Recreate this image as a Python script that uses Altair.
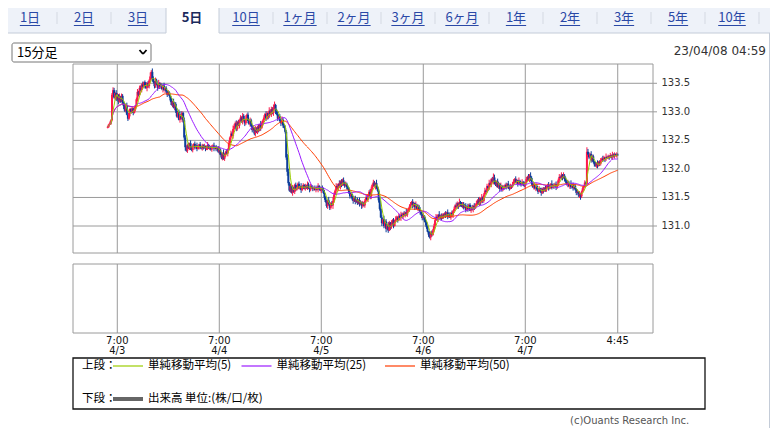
import altair as alt
import pandas as pd
import numpy as np

# ---------------- data (15-minute bars, 4/3 4:45 -> 4/8 4:45) ----------------
first_open = 132.72
closes = [
    132.74, 132.78, 132.80, 132.85,
    133.30, 133.38,
    133.25, 133.33, 133.22, 133.30, 133.18, 133.26, 133.20, 133.28, 133.15,
    133.10, 133.02, 133.12, 132.95, 132.88, 132.98, 133.05,
    133.00, 133.06, 132.98, 133.04, 133.10,
    133.22, 133.35, 133.30, 133.42,
    133.38, 133.48, 133.44, 133.52, 133.46, 133.42, 133.50, 133.45, 133.55,
    133.62, 133.70, 133.58,
    133.52, 133.45, 133.55, 133.48, 133.42, 133.50, 133.44, 133.47, 133.40, 133.46, 133.38, 133.42,
    133.36, 133.30, 133.34, 133.28,
    133.20, 133.12, 133.18, 133.08, 133.14,
    133.02, 132.92, 133.00, 132.86, 132.95, 132.88, 132.98, 132.85,
    132.55, 132.38,
    132.32, 132.42, 132.36, 132.45, 132.38, 132.33, 132.40, 132.44, 132.37, 132.41, 132.35, 132.39, 132.43, 132.38, 132.36, 132.41,
    132.37, 132.40, 132.35, 132.38, 132.42, 132.36, 132.39, 132.34, 132.38, 132.41, 132.36, 132.39, 132.35, 132.37,
    132.30, 132.34, 132.25, 132.20, 132.28, 132.18, 132.24, 132.30, 132.27, 132.35,
    132.45, 132.55, 132.62, 132.58, 132.70, 132.75,
    132.80, 132.70, 132.82, 132.76, 132.86,
    132.90, 132.82, 132.93, 132.86, 132.80, 132.88, 132.95, 132.84, 132.79, 132.85,
    132.75, 132.68, 132.72, 132.62, 132.70, 132.65, 132.74, 132.67, 132.78, 132.72, 132.80, 132.85,
    132.90, 132.96, 132.88, 132.98, 132.92, 133.02, 132.95, 133.05, 132.98, 133.08, 133.12, 133.02,
    132.96, 132.88, 132.92, 132.84, 132.80, 132.86, 132.76, 132.72, 132.65,
    132.20, 131.95,
    131.75, 131.62, 131.70, 131.58, 131.66, 131.60, 131.72, 131.64,
    131.68, 131.74, 131.66, 131.70, 131.63, 131.69, 131.72, 131.65, 131.70, 131.67, 131.73, 131.66, 131.64, 131.70, 131.68, 131.65,
    131.67, 131.63, 131.68, 131.64, 131.70, 131.66, 131.62, 131.67, 131.64,
    131.58, 131.50, 131.42, 131.35, 131.45, 131.38, 131.32, 131.40, 131.36, 131.44,
    131.55, 131.62, 131.70, 131.66, 131.74, 131.70, 131.78, 131.72, 131.80, 131.76, 131.70, 131.74, 131.68, 131.65,
    131.58, 131.52, 131.56, 131.48, 131.44, 131.50, 131.42, 131.46, 131.40, 131.45, 131.38, 131.42, 131.35, 131.40, 131.36, 131.44,
    131.50, 131.46, 131.55, 131.60, 131.52,
    131.65, 131.72, 131.76, 131.70, 131.75, 131.68, 131.62,
    131.45, 131.30, 131.15, 131.05, 131.12, 131.00, 131.08,
    130.95, 131.02, 130.92, 131.06, 130.98, 131.04, 131.10, 131.00, 131.08, 131.12,
    131.15, 131.10, 131.18, 131.14, 131.20, 131.16, 131.22, 131.18, 131.24, 131.20, 131.26, 131.30, 131.34,
    131.38, 131.42, 131.35, 131.40, 131.33, 131.37, 131.30, 131.34, 131.28, 131.25,
    131.20, 131.14, 131.18, 131.10, 131.06,
    130.98, 130.90, 130.85, 130.80, 130.88, 130.84, 130.92,
    131.00, 131.10, 131.16, 131.12, 131.20, 131.15, 131.18, 131.13, 131.19,
    131.16, 131.22, 131.18, 131.24, 131.17, 131.21, 131.15, 131.23, 131.19, 131.26,
    131.30, 131.36, 131.33, 131.40, 131.35, 131.42, 131.38, 131.34, 131.39,
    131.32, 131.36, 131.28, 131.34, 131.30, 131.37, 131.27, 131.33, 131.29, 131.35, 131.31, 131.36,
    131.40, 131.45, 131.38, 131.48, 131.42, 131.50, 131.44,
    131.55, 131.62, 131.60, 131.70, 131.66, 131.75, 131.72, 131.82, 131.78, 131.85, 131.76,
    131.72, 131.78, 131.68, 131.74, 131.65, 131.70, 131.64, 131.68,
    131.66, 131.72, 131.68, 131.74, 131.70, 131.65, 131.71, 131.69, 131.73,
    131.78, 131.82, 131.76, 131.80, 131.74, 131.79, 131.75,
    131.72, 131.77, 131.74, 131.70, 131.76,
    131.82, 131.86, 131.80, 131.88, 131.84,
    131.74, 131.68, 131.72, 131.66, 131.70,
    131.64, 131.60, 131.66, 131.62, 131.58, 131.65, 131.61, 131.67, 131.63,
    131.68, 131.72, 131.66, 131.70, 131.74, 131.67, 131.71, 131.69, 131.73, 131.68, 131.72,
    131.80, 131.86, 131.84, 131.90, 131.85, 131.88, 131.82,
    131.78, 131.72, 131.76, 131.70, 131.74, 131.68, 131.72, 131.66, 131.70,
    131.64, 131.58, 131.60, 131.54, 131.56, 131.52,
    131.60, 131.66, 131.70, 131.76, 131.74,
    132.30, 132.25,
    132.20, 132.26, 132.15, 132.22,
    132.12, 132.08, 132.05, 132.10, 132.06, 132.12, 132.09,
    132.15, 132.18, 132.16, 132.20, 132.17, 132.21, 132.19,
    132.22, 132.20, 132.24, 132.21, 132.25, 132.22, 132.26, 132.23, 132.25, 132.24,
]
# upper / lower wick beyond the body, in pips (0.01), one digit per bar
wick_up_rows = [
    "2132", "35", "425316243", "3524162", "23142", "3524", "425136242", "736",
    "425316243152", "3142", "24153", "35241632", "54", "3241523142531423",
    "24135231425132", "3524163241", "425364", "35241", "4253162435",
    "324153241632", "425316243562", "352416324", "36", "52416324",
    "3241523142531423", "241352314", "3524163247", "42531624351423",
    "3241523142531423", "24135", "4253162", "3524163", "4253162435",
    "3241532416324", "4253162435", "32415", "2316243", "425316243",
    "3241523142", "425316243", "324152314253", "4253162", "35241632475",
    "42531624", "324152314", "4253162", "35241", "42536", "32415",
    "324152314", "42531624352", "3524163", "425316243", "324152", "23142",
    "85", "4253", "3241523", "4253162", "3241523142",
]
wick_dn_rows = [
    "1213", "24", "243152432", "5231426", "32413", "2431", "243152634", "345",
    "243152432615", "2413", "31425", "42315264", "46", "2413524132415324",
    "31425132415243", "2413524315", "324153", "24315", "3142531425",
    "241352431524", "314253142536", "241352413", "47", "42315243",
    "2413524132415324", "314253142", "2413524316", "31425364253142",
    "2413524132415324", "31425", "5241632", "4315243", "6241532413",
    "2413524132415", "3142531425", "24135", "3142531", "241352431",
    "3142531425", "241352413", "314253142531", "2413524", "31425314253",
    "24135243", "314253142", "2413524", "31425", "24135", "31425",
    "241352413", "31425314253", "2413524", "314253142", "241356", "31425",
    "24", "3142", "2413524", "3142531", "2413524131",
]
start_hour = 4.75          # 4/3 4:45, hours counted from 4/3 0:00
bar_step = 0.25            # 15 minutes

ma_periods = [50, 25, 5]
ma_colors = ["#ff3c00", "#9a1aff", "#9acd00"]

x_tick_hours = [7, 31, 55, 79, 103, 124.75]
x_tick_line1 = ["7:00", "7:00", "7:00", "7:00", "7:00", "4:45"]
x_tick_line2 = ["4/3", "4/4", "4/5", "4/6", "4/7", ""]
y_ticks = [131.0, 131.5, 132.0, 132.5, 133.0, 133.5]

tab_labels = ["1日", "2日", "3日", "5日", "10日", "1ヶ月", "2ヶ月", "3ヶ月",
              "6ヶ月", "1年", "2年", "3年", "5年", "10年"]
active_tab = "5日"
period_select = "15分足"
stamp = "23/04/08 04:59"
legend_row1 = ["単純移動平均(5)", "単純移動平均(25)", "単純移動平均(50)"]
legend_row2 = "出来高 単位:(株/口/枚)"
copyright_text = "(c)Ouants Research Inc."

# ---------------- frames ----------------
n = len(closes)
wu = [int(c) for c in "".join(wick_up_rows)]
wd = [int(c) for c in "".join(wick_dn_rows)]
m = min(n, len(wu), len(wd))
df = pd.DataFrame({"h": [start_hour + bar_step * i for i in range(n)], "close": closes})
df["open"] = [first_open] + closes[:-1]
df["dir"] = np.where(df["close"] >= df["open"], "up", "down")
body_hi = df[["open", "close"]].max(axis=1)
body_lo = df[["open", "close"]].min(axis=1)
up_arr = np.zeros(n); dn_arr = np.zeros(n)
up_arr[:m] = wu[:m]; dn_arr[:m] = wd[:m]
df["high"] = body_hi + up_arr * 0.01
df["low"] = body_lo - dn_arr * 0.01
for p in ma_periods:
    df[f"ma{p}"] = df["close"].rolling(p, min_periods=1).mean()

ticks = pd.DataFrame({"h": x_tick_hours, "l1": x_tick_line1, "l2": x_tick_line2})
yt = pd.DataFrame({"v": y_ticks, "lab": [f"{v:.1f}" for v in y_ticks]})

OX, OY = 73, 64  # page position of plot origin
W, H = 580, 189
GRID = "#9a9a9a"

xscale = alt.Scale(domain=[-3.42, 133.05], nice=False, zero=False)
yscale = alt.Scale(domain=[130.527, 133.838], nice=False, zero=False)
X = alt.X("h:Q", scale=xscale, axis=None)

def Yf(field):
    return alt.Y(f"{field}:Q", scale=yscale, axis=None)

dummy = alt.Data(values=[{"a": 1}])

def rect(x1, y1, x2, y2, fill="white", stroke=None, sw=1, radius=0):
    kw = dict(fill=fill, strokeWidth=sw, cornerRadius=radius)
    if stroke:
        kw["stroke"] = stroke
    return alt.Chart(dummy).mark_rect(**kw).encode(
        x=alt.value(x1 - OX), x2=alt.value(x2 - OX),
        y=alt.value(y1 - OY), y2=alt.value(y2 - OY))

def seg(x1, y1, x2, y2, color="#999999", sw=1):
    return alt.Chart(dummy).mark_rule(color=color, strokeWidth=sw).encode(
        x=alt.value(x1 - OX), x2=alt.value(x2 - OX),
        y=alt.value(y1 - OY), y2=alt.value(y2 - OY))

def txt(px, py, s, size=12, color="#000000", align="left", font="DejaVu Sans", weight="normal"):
    return alt.Chart(dummy).mark_text(text=s, align=align, baseline="middle", fontSize=size,
                                      font=font, color=color, fontWeight=weight).encode(
        x=alt.value(px - OX), y=alt.value(py - OY))

layers = []
# tab bar
layers.append(rect(0, 0, 770, 33, fill="#eef2f9"))
for i, lab in enumerate(tab_labels):
    cx = 30 + 54 * i
    if lab == active_tab:
        layers.append(rect(166, 0, 219, 34, fill="white"))
        layers.append(seg(166, 0, 166, 33, "#c4ccd8"))
        layers.append(seg(219, 0, 219, 33, "#c4ccd8"))
        layers.append(txt(cx, 18, lab, 13, "#1b2a5c", "center", "Noto Sans CJK JP", "bold"))
    else:
        w = sum(7.3 if ch.isascii() else 13 for ch in lab)
        layers.append(txt(cx, 18, lab, 13, "#2a48a6", "center", "Noto Sans CJK JP"))
        layers.append(seg(cx - w / 2, 25.5, cx + w / 2, 25.5, "#2a48a6", 1))
for i in range(len(tab_labels)):
    sx = 30 + 54 * i + 27
    if tab_labels[i] == active_tab or (i + 1 < len(tab_labels) and tab_labels[i + 1] == active_tab):
        continue
    layers.append(seg(sx, 12, sx, 24, "#d4d9e2"))
layers.append(seg(0, 33, 166, 33, "#c4ccd8"))
layers.append(seg(219, 33, 770, 33, "#c4ccd8"))
layers.append(seg(769.5, 33, 769.5, 441, "#c4ccd8"))

# dropdown + timestamp
layers.append(rect(12, 43, 151, 62, fill="white", stroke="#767676", sw=1, radius=2))
layers.append(txt(17, 52.5, period_select, 13, "#000000", "left", "Noto Sans CJK JP"))
layers.append(seg(139.5, 50, 143, 54, "#000000", 1.8))
layers.append(seg(143, 54, 146.5, 50, "#000000", 1.8))
layers.append(txt(766, 51, stamp, 12, "#333333", "right"))

# price chart grid + right axis
layers.append(rect(73, 64, 653, 253, fill="white", stroke=GRID, sw=1))
layers.append(alt.Chart(yt).mark_rule(color=GRID, strokeWidth=1).encode(
    y=Yf("v"), x=alt.value(0), x2=alt.value(W)))
layers.append(alt.Chart(yt).mark_rule(color=GRID, strokeWidth=1).encode(
    y=Yf("v"), x=alt.value(W), x2=alt.value(W + 4)))
layers.append(alt.Chart(yt).mark_text(align="left", baseline="middle", fontSize=10,
                                      font="DejaVu Sans", color="#333333").encode(
    y=Yf("v"), x=alt.value(W + 8.5), text="lab:N"))
layers.append(alt.Chart(ticks).mark_rule(color=GRID, strokeWidth=1).encode(
    x=X, y=alt.value(0), y2=alt.value(H)))

# candles + moving averages
cscale = alt.Scale(domain=["up", "down"], range=["#ff1a4b", "#0b3c9a"])
layers.append(alt.Chart(df).mark_rule(strokeWidth=1).encode(
    x=X, y=Yf("low"), y2="high", color=alt.Color("dir:N", scale=cscale, legend=None)))
layers.append(alt.Chart(df).mark_rule(strokeWidth=2).encode(
    x=X, y=Yf("open"), y2="close", color=alt.Color("dir:N", scale=cscale, legend=None)))
for p, c in zip(ma_periods, ma_colors):
    layers.append(alt.Chart(df).mark_line(strokeWidth=1, color=c).encode(x=X, y=Yf(f"ma{p}")))

# volume panel (empty)
layers.append(rect(73, 264, 653, 333, fill="white", stroke=GRID, sw=1))
layers.append(alt.Chart(ticks).mark_rule(color=GRID, strokeWidth=1).encode(
    x=X, y=alt.value(264 - OY), y2=alt.value(333 - OY)))
layers.append(alt.Chart(ticks).mark_text(fontSize=10, font="DejaVu Sans", color="#111111",
                                         baseline="middle").encode(
    x=X, y=alt.value(341 - OY), text="l1:N"))
layers.append(alt.Chart(ticks).mark_text(fontSize=10, font="DejaVu Sans", color="#111111",
                                         baseline="middle").encode(
    x=X, y=alt.value(351 - OY), text="l2:N"))

# legend box
layers.append(rect(73, 358, 705, 409, fill="white", stroke="#111111", sw=1.3))
layers.append(txt(82, 366, "上段：", 11.5, "#000000", "left", "Noto Sans CJK JP"))
legend_line_x = [113, 241.5, 385]
for lx, c, lab in zip(legend_line_x, ma_colors[::-1], legend_row1):
    layers.append(seg(lx, 366, lx + 30, 366, c, 1.2))
    layers.append(txt(lx + 35, 366, lab, 11.5, "#000000", "left", "Noto Sans CJK JP"))
layers.append(txt(82, 399, "下段：", 11.5, "#000000", "left", "Noto Sans CJK JP"))
layers.append(seg(113, 399, 143, 399, "#666666", 4))
layers.append(txt(148, 399, legend_row2, 11.5, "#000000", "left", "Noto Sans CJK JP"))

layers.append(txt(570, 421, copyright_text, 10, "#555555", "left"))

chart = alt.layer(*layers).properties(
    width=W, height=H,
    padding={"left": 65, "top": 56, "right": 117, "bottom": 175},
    autosize=alt.AutoSizeParams(type="none"),
    background="white",
).configure_view(stroke=None)

chart.save("out.html", embed_options={"renderer": "svg", "actions": False})
